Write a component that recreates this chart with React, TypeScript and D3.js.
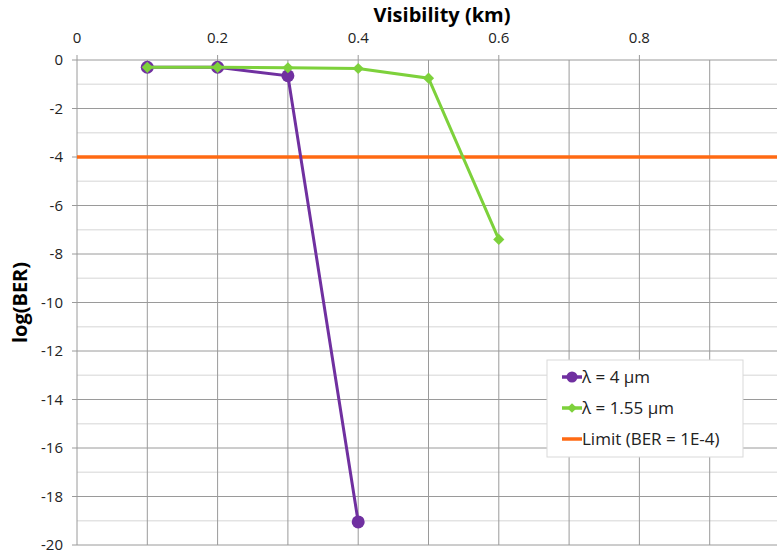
import React, { useEffect, useRef } from 'react';
import * as d3 from 'd3';

const visibility4 = [0.1, 0.2, 0.3, 0.4];
const logBer4 = [-0.3, -0.3, -0.65, -19.05];
const visibility155 = [0.1, 0.2, 0.3, 0.4, 0.5, 0.6];
const logBer155 = [-0.3, -0.3, -0.32, -0.35, -0.75, -7.4];
const limitValue = -4;
const xTickLabels = [0, 0.2, 0.4, 0.6, 0.8];
const yTickLabels = [0, -2, -4, -6, -8, -10, -12, -14, -16, -18, -20];
const legendLabels = ['λ = 4 µm', 'λ = 1.55 µm', 'Limit (BER = 1E-4)'];

const W = 777;
const H = 555;
const FONT = '"Open Sans", "Liberation Sans", sans-serif';

export default function App() {
  const svgRef = useRef<SVGSVGElement>(null);

  useEffect(() => {
    if (!svgRef.current) return;
    const svg = d3.select(svgRef.current);
    svg.selectAll('*').remove();

    const left = 77, top = 60, bottom = 545;
    const x = d3.scaleLinear().domain([0, 1]).range([left, left + 703]);
    const y = d3.scaleLinear().domain([0, -20]).range([top, bottom]);

    const g = svg.append('g');

    // minor horizontal grid
    g.selectAll('.minor')
      .data(d3.range(-1, -20, -2))
      .enter().append('line')
      .attr('x1', left).attr('x2', W)
      .attr('y1', d => y(d)).attr('y2', d => y(d))
      .attr('stroke', '#e3e3e3').attr('stroke-width', 1.5);

    // major horizontal grid
    g.selectAll('.major')
      .data(yTickLabels)
      .enter().append('line')
      .attr('x1', left - 5).attr('x2', W)
      .attr('y1', d => y(d)).attr('y2', d => y(d))
      .attr('stroke', '#9a9a9a').attr('stroke-width', 1);

    // vertical grid
    g.selectAll('.vgrid')
      .data(d3.range(0, 10).map(i => i / 10))
      .enter().append('line')
      .attr('x1', d => x(d)).attr('x2', d => x(d))
      .attr('y1', d => (xTickLabels.some(t => Math.abs(t - d) < 1e-9) ? top - 5 : top))
      .attr('y2', bottom)
      .attr('stroke', '#9a9a9a').attr('stroke-width', 1);

    // tick labels
    g.selectAll('.xl')
      .data(xTickLabels)
      .enter().append('text')
      .attr('x', d => x(d)).attr('y', 43)
      .attr('text-anchor', 'middle')
      .attr('font-family', FONT).attr('font-size', 15).attr('fill', '#222')
      .text(d => String(d));

    g.selectAll('.yl')
      .data(yTickLabels)
      .enter().append('text')
      .attr('x', 63).attr('y', d => y(d) + 5)
      .attr('text-anchor', 'end')
      .attr('font-family', FONT).attr('font-size', 15).attr('fill', '#222')
      .text(d => String(d));

    // axis titles
    svg.append('text')
      .attr('x', 442).attr('y', 22)
      .attr('text-anchor', 'middle')
      .attr('font-family', FONT).attr('font-size', 20).attr('font-weight', 'bold')
      .text('Visibility (km)');
    svg.append('text')
      .attr('transform', `translate(27,${y(-10)}) rotate(-90)`)
      .attr('text-anchor', 'middle')
      .attr('font-family', FONT).attr('font-size', 20).attr('font-weight', 'bold')
      .text('log(BER)');

    // limit line
    g.append('line')
      .attr('x1', x(0)).attr('x2', W)
      .attr('y1', y(limitValue)).attr('y2', y(limitValue))
      .attr('stroke', '#ff6a13').attr('stroke-width', 3.5);

    const line = d3.line<[number, number]>().x(d => x(d[0])).y(d => y(d[1]));
    const s4: [number, number][] = visibility4.map((v, i) => [v, logBer4[i]]);
    const s155: [number, number][] = visibility155.map((v, i) => [v, logBer155[i]]);

    g.append('path').attr('d', line(s4) || '')
      .attr('fill', 'none').attr('stroke', '#7030a0').attr('stroke-width', 3);
    g.selectAll('.c4').data(s4).enter().append('circle')
      .attr('cx', d => x(d[0])).attr('cy', d => y(d[1])).attr('r', 6.5)
      .attr('fill', '#7030a0');

    g.append('path').attr('d', line(s155) || '')
      .attr('fill', 'none').attr('stroke', '#7dd13b').attr('stroke-width', 3);
    const diamond = d3.symbol().type(d3.symbolDiamond2).size(80);
    g.selectAll('.d155').data(s155).enter().append('path')
      .attr('d', diamond() || '')
      .attr('transform', d => `translate(${x(d[0])},${y(d[1])})`)
      .attr('fill', '#7dd13b');

    // legend
    const lg = svg.append('g').attr('transform', 'translate(547,360)');
    lg.append('rect').attr('width', 196).attr('height', 97)
      .attr('fill', '#fff').attr('stroke', '#d9d9d9');
    const colors = ['#7030a0', '#7dd13b', '#ff6a13'];
    legendLabels.forEach((label, i) => {
      const cy = 17 + i * 31;
      lg.append('line').attr('x1', 15).attr('x2', 35).attr('y1', cy).attr('y2', cy)
        .attr('stroke', colors[i]).attr('stroke-width', 3.5);
      if (i === 0) lg.append('circle').attr('cx', 25).attr('cy', cy).attr('r', 5.5).attr('fill', colors[i]);
      if (i === 1) lg.append('path').attr('d', d3.symbol().type(d3.symbolDiamond2).size(60)() || '')
        .attr('transform', `translate(25,${cy})`).attr('fill', colors[i]);
      lg.append('text').attr('x', 35).attr('y', cy + 6)
        .attr('font-family', FONT).attr('font-size', 17).attr('fill', '#222')
        .text(label);
    });
  }, []);

  return (
    <div style={{ position: 'fixed', left: 0, top: 0 }}>
      <svg ref={svgRef} width={W} height={H} style={{ display: 'block', background: '#fff' }} />
    </div>
  );
}
